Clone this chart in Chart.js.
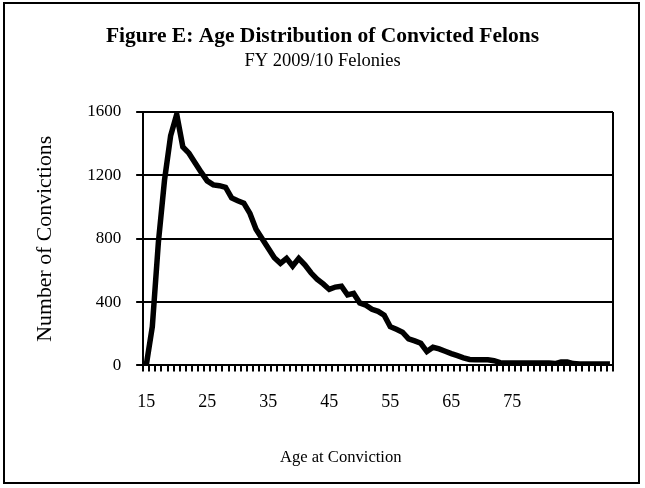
<!DOCTYPE html>
<html>
<head>
<meta charset="utf-8">
<script src="https://cdn.jsdelivr.net/npm/chart.js@4.4.0/dist/chart.umd.min.js"></script>
<style>
  html, body { margin: 0; padding: 0; background: #fff; }
  #wrap { position: relative; width: 645px; height: 488px; }
  #frame { position: absolute; left: 3px; top: 2px; width: 637px; height: 482px; box-sizing: border-box; border: 2px solid #000; pointer-events: none; }
</style>
</head>
<body>
<div id="wrap">
  <canvas id="chart-age-felons"></canvas>
  <div id="frame"></div>
</div>
<script>
// ages (categories) and convictions per age
var ages = [15, 16, 17, 18, 19, 20, 21, 22, 23, 24, 25, 26, 27, 28, 29, 30, 31, 32, 33, 34,
            35, 36, 37, 38, 39, 40, 41, 42, 43, 44, 45, 46, 47, 48, 49, 50, 51, 52, 53, 54,
            55, 56, 57, 58, 59, 60, 61, 62, 63, 64, 65, 66, 67, 68, 69, 70, 71, 72, 73, 74,
            75, 76, 77, 78, 79, 80, 81, 82, 83, 84, 85, 86, 87, 88, 89, 90, 91];
var convictions = [0, 245, 780, 1170, 1450, 1585, 1380, 1340, 1280, 1220, 1165, 1140, 1135, 1125, 1058, 1040, 1025, 960, 860, 800,
                   740, 680, 645, 676, 628, 676, 635, 585, 545, 515, 480, 495, 500, 445, 455, 395, 380, 355, 342, 318,
                   245, 228, 210, 168, 155, 140, 88, 115, 105, 90, 75, 62, 48, 38, 36, 36, 36, 30, 18, 16,
                   16, 16, 16, 16, 16, 16, 16, 12, 22, 22, 12, 10, 10, 10, 10, 10, 10];
var xTickLabels = [15, 25, 35, 45, 55, 65, 75];
var yTicks = [0, 400, 800, 1200, 1600];

var serif = "'Liberation Serif', 'Times New Roman', serif";

// plot frame (right side of the plot box)
var plotFrame = {
    id: 'plotFrame',
    afterDraw: function(chart) {
        var a = chart.chartArea, c = chart.ctx;
        c.save();
        c.strokeStyle = '#000';
        c.lineWidth = 2;
        c.beginPath();
        c.moveTo(a.right, a.top);
        c.lineTo(a.right, a.bottom);
        c.stroke();
        c.restore();
    }
};

var ctx = document.getElementById("chart-age-felons").getContext('2d');
var myChart = new Chart(ctx, {
    type: 'line',
    data: {
        labels: ages,
        datasets: [{
            label: 'Number of Convictions',
            data: convictions,
            fill: false,
            borderColor: '#000',
            borderWidth: 5.5,
            pointRadius: 0,
            tension: 0,
        }]},
    plugins: [plotFrame],
    options: {
        responsive: true,
        maintainAspectRatio: false,
        animation: false,
        layout: { padding: { top: 24, left: 32, right: 32, bottom: 20 } },
        plugins: {
            legend: { display: false },
            tooltip: { enabled: false },
            title: {
                display: true,
                text: 'Figure E: Age Distribution of Convicted Felons',
                color: '#000',
                font: { family: serif, size: 21.5, weight: 'bold' },
                padding: { top: 0, bottom: 0 }
            },
            subtitle: {
                display: true,
                text: 'FY 2009/10 Felonies',
                color: '#000',
                font: { family: serif, size: 18.5 },
                padding: { top: 0, bottom: 40 }
            }
        },
        scales: {
            x: {
                type: 'category',
                offset: true,
                border: { color: '#000', width: 2 },
                grid: { offset: true, drawOnChartArea: false, drawTicks: true, tickLength: 6, color: '#000', lineWidth: 2 },
                ticks: {
                    autoSkip: false,
                    maxRotation: 0,
                    padding: 20,
                    color: '#000',
                    font: { family: serif, size: 18 },
                    callback: function(value) {
                        var lab = this.getLabelForValue(value);
                        return xTickLabels.indexOf(lab) >= 0 ? String(lab) : '';
                    }
                },
                title: {
                    display: true,
                    // trailing spaces push the title left, as in the original
                    text: 'Age at Conviction' + '\u00a0'.repeat(18),
                    color: '#000',
                    font: { family: serif, size: 16.6 },
                    padding: { top: 15, bottom: 0 }
                }
            },
            y: {
                min: 0,
                max: 1600,
                border: { color: '#000', width: 2 },
                grid: { color: '#000', lineWidth: 2, tickLength: 7 },
                afterBuildTicks: function(axis) {
                    axis.ticks = yTicks.map(function(v) { return { value: v }; });
                },
                ticks: {
                    padding: 15,
                    color: '#000',
                    font: { family: serif, size: 17 },
                    callback: function(value) { return String(value); }
                },
                title: {
                    display: true,
                    text: 'Number of Convictions',
                    color: '#000',
                    font: { family: serif, size: 21.8 },
                    padding: { top: 0, bottom: 14 }
                }
            }
        }
    }
});
</script>
</body>
</html>
